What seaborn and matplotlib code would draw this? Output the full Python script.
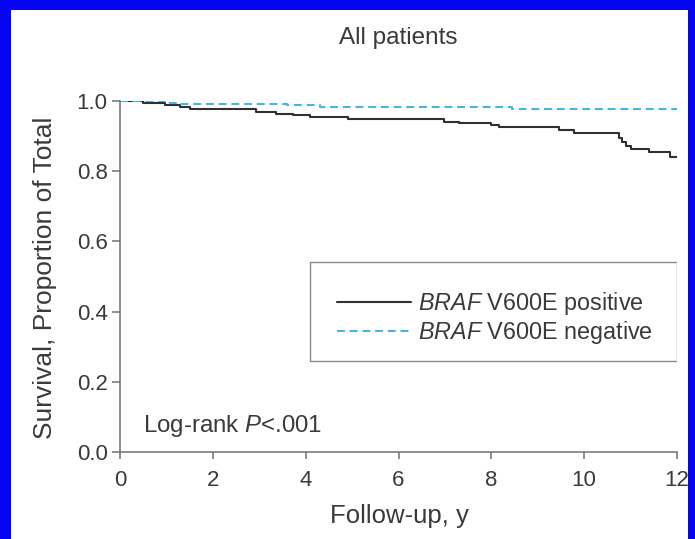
import matplotlib
matplotlib.use("Agg")
import matplotlib.pyplot as plt
import seaborn as sns
import pandas as pd
from matplotlib.patches import Rectangle

# ---- data ----
pos_time = [0, 0.50, 0.97, 1.29, 1.50, 2.94, 3.37, 3.73, 4.09, 4.91, 6.99, 7.31, 8.00,
            8.17, 9.46, 9.78, 10.75, 10.81, 10.90, 11.00, 11.40, 11.84, 12.0]
pos_surv = [1.0, 0.995, 0.989, 0.984, 0.977, 0.968, 0.964, 0.960, 0.953, 0.950, 0.941, 0.936, 0.932,
            0.925, 0.917, 0.910, 0.895, 0.882, 0.873, 0.863, 0.856, 0.841, 0.841]
neg_time = [0, 1.00, 1.29, 3.60, 4.30, 8.45, 12.0]
neg_surv = [1.0, 0.995, 0.991, 0.989, 0.984, 0.976, 0.976]
series_labels = [r"$\mathit{BRAF}$ V600E positive", r"$\mathit{BRAF}$ V600E negative"]
x_ticks = [0, 2, 4, 6, 8, 10, 12]
y_ticks = [0.0, 0.2, 0.4, 0.6, 0.8, 1.0]
title = "All patients"
x_label = "Follow-up, y"
y_label = "Survival, Proportion of Total"
annot = r"Log-rank $\mathit{P}$<.001"

sns.set_style("ticks")
plt.rcParams["font.family"] = ["Liberation Sans", "DejaVu Sans"]
plt.rcParams["mathtext.fontset"] = "custom"
plt.rcParams["mathtext.rm"] = "Liberation Sans"
plt.rcParams["mathtext.it"] = "Liberation Sans:italic"
plt.rcParams["mathtext.bf"] = "Liberation Sans:bold"

txt = "#3a3a3a"
axc = "#707070"
W, H = 695, 539

fig = plt.figure(figsize=(6.95, 5.39), dpi=100)
fig.patch.set_facecolor("#0505f0")
bg = Rectangle((11 / W, 0), (688 - 11) / W, (H - 10) / H,
               transform=fig.transFigure, facecolor="white", edgecolor="none")
bg.set_zorder(-10)
fig.add_artist(bg)

ax = fig.add_axes([120 / W, (H - 452) / H, 557 / W, 351 / H])
ax.set_zorder(5)
ax.set_facecolor("white")

df_pos = pd.DataFrame({"t": pos_time, "s": pos_surv})
df_neg = pd.DataFrame({"t": neg_time, "s": neg_surv})
sns.lineplot(data=df_pos, x="t", y="s", ax=ax, estimator=None, drawstyle="steps-post",
             color="#303030", linewidth=1.5, label=series_labels[0])
sns.lineplot(data=df_neg, x="t", y="s", ax=ax, estimator=None, drawstyle="steps-post",
             color="#45b5e6", linewidth=1.5, linestyle=(0, (3.8, 2.3)), label=series_labels[1])

ax.set_xlim(0, 12)
ax.set_ylim(0, 1.0)
ax.set_xticks(x_ticks)
ax.set_xticklabels([str(v) for v in x_ticks])
ax.set_yticks(y_ticks)
ax.set_yticklabels([f"{v:.1f}" for v in y_ticks])
for s in ["top", "right"]:
    ax.spines[s].set_visible(False)
for s in ["left", "bottom"]:
    ax.spines[s].set_color(axc)
    ax.spines[s].set_linewidth(1.1)
ax.tick_params(axis="y", direction="out", length=6, width=1.1, color=axc,
               labelsize=16, labelcolor=txt, pad=3)
ax.tick_params(axis="x", direction="out", length=5, width=1.1, color=axc,
               labelsize=16, labelcolor=txt, pad=8)

ax.set_xlabel("")
ax.set_ylabel("")
fig.text(399 / W, 1 - 523 / H, x_label, ha="center", va="baseline", fontsize=18.5, color=txt)
fig.text(45 / W, 1 - 278 / H, y_label, ha="center", va="center", rotation=90,
         fontsize=19, color=txt)
fig.text(398 / W, 1 - 44 / H, title, ha="center", va="baseline", fontsize=17.5, color=txt)

ax.text((143 - 120) / 557, (452 - 432) / 351, annot, transform=ax.transAxes, fontsize=17.3,
        color=txt, ha="left", va="baseline")

# legend frame and legend
ax.add_patch(Rectangle(((310 - 120) / 557, (452 - 361) / 351), (677 - 310) / 557, (361 - 262) / 351,
                       transform=ax.transAxes, facecolor="white", edgecolor="#8a8a8a",
                       linewidth=1.0, zorder=3))
leg = ax.legend(loc="upper left", bbox_to_anchor=((337 - 120) / 557, (452 - 290) / 351),
                frameon=False, fontsize=16.8, handlelength=3.15, handletextpad=0.3,
                borderpad=0, borderaxespad=0, labelspacing=0.08)
leg.set_zorder(4)
for t in leg.get_texts():
    t.set_color(txt)

fig.savefig("out.png", dpi=100, facecolor=fig.get_facecolor())
